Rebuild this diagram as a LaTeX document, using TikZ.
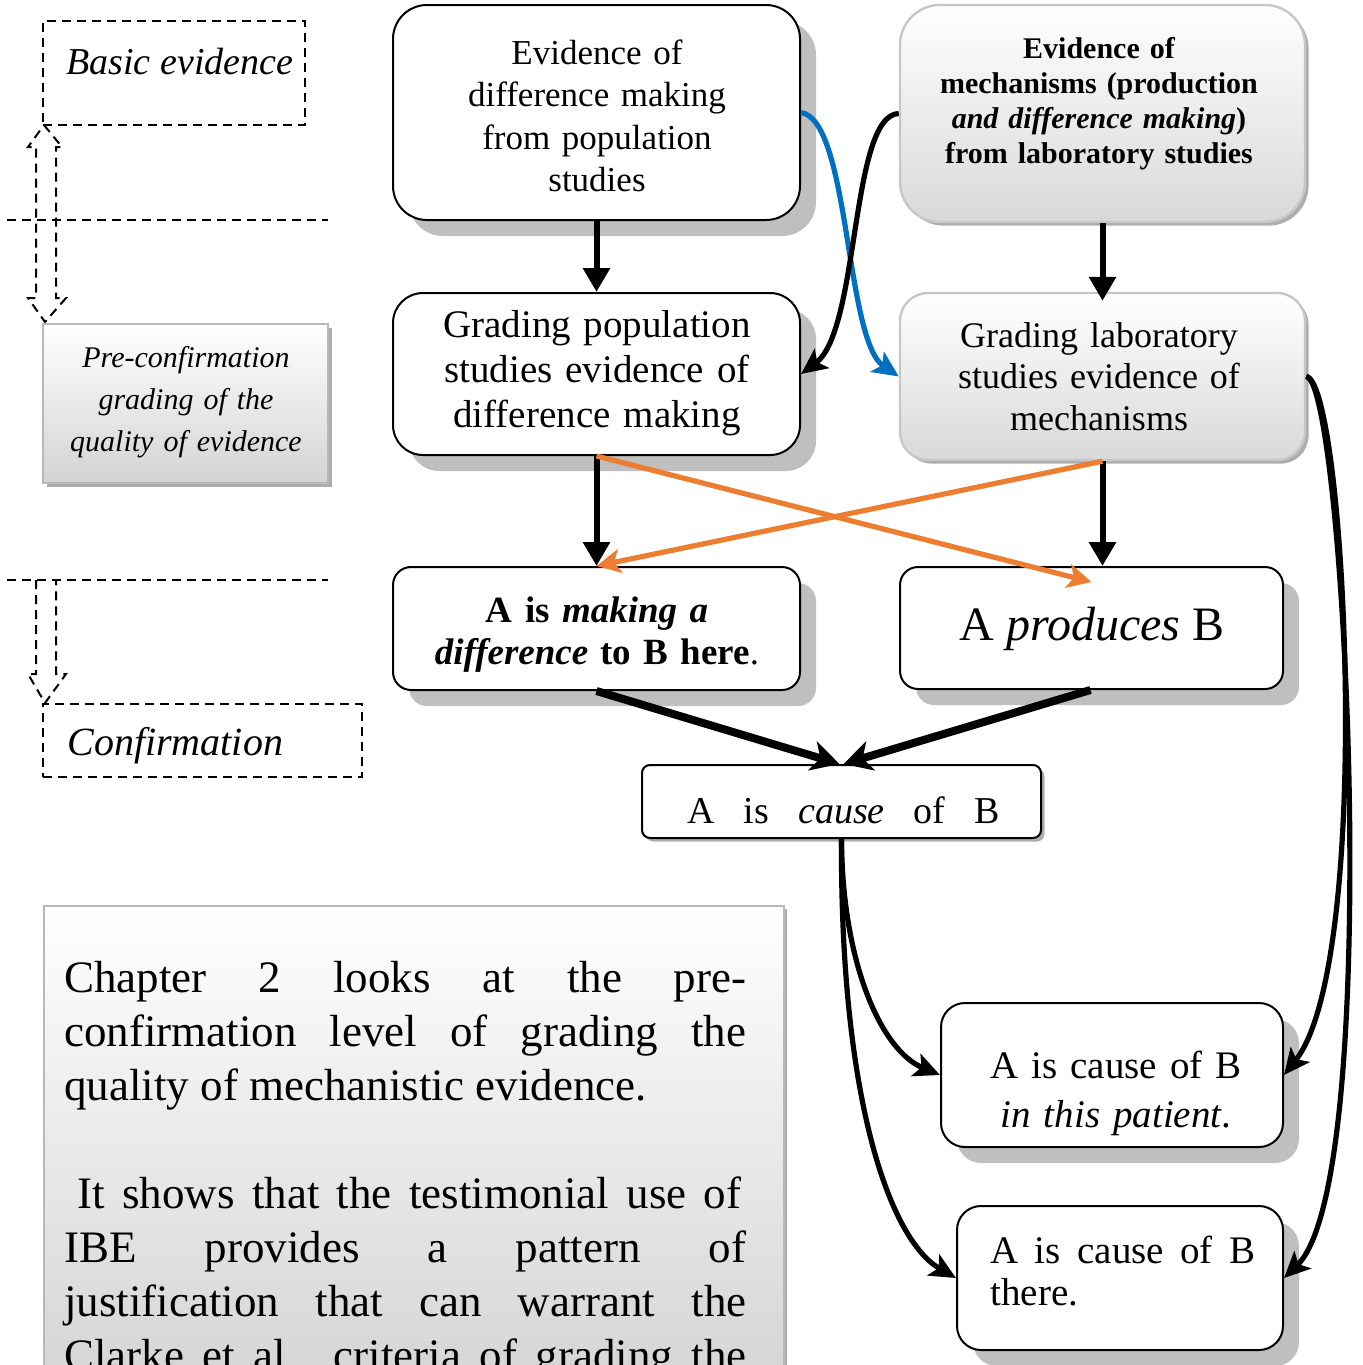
\documentclass[tikz,border=0pt]{standalone}
\usepackage{fontspec}
\setmainfont{Liberation Serif}
\usetikzlibrary{arrows.meta,shadows,calc}
\definecolor{flowblue}{HTML}{0070C0}
\definecolor{floworange}{HTML}{ED7D31}
\begin{document}
\begin{tikzpicture}[x=0.5pt,y=-0.5pt,
  bigshadow/.style={drop shadow={shadow xshift=8pt,shadow yshift=-8pt,fill=black!25,opacity=1}},
  smallshadow/.style={drop shadow={shadow xshift=1.8pt,shadow yshift=-1.8pt,fill=black!32,opacity=1}},
  wbox/.style={draw=black,line width=1pt,fill=white,rounded corners=#1,bigshadow},
  gbox/.style={draw=black!22,line width=1.2pt,top color=white,bottom color=black!15,rounded corners=#1,smallshadow},
  pbox/.style={draw=black!28,line width=0.8pt,top color=white,bottom color=black!17,smallshadow},
  dbox/.style={draw=black,line width=1pt,dash pattern=on 4.5pt off 3pt},
  dline/.style={draw=black,line width=1pt,dash pattern=on 4.5pt off 3pt},
  txt/.style={inner sep=0pt,align=center},
  vflow/.style={draw=black,line width=3pt,-{Triangle[width=13pt,length=12pt]}},
  jflow/.style={draw=black,line width=4pt,-{Stealth[width=15pt,length=14pt,inset=4pt]}},
  cflow/.style={draw=black,line width=2.6pt,-{Stealth[width=12pt,length=13pt,inset=3pt]}},
  oflow/.style={draw=floworange,line width=2.6pt,-{Stealth[width=12pt,length=12pt,inset=3pt]}}]
\useasboundingbox (0,0) rectangle (1362,1365);

% ---- stage labels on the left ----
\node[dbox,minimum width=131pt,minimum height=52pt] (basic) at (174,73) {};
\node[txt,anchor=base west,font=\fontsize{19}{22}\selectfont\itshape] (basic-t) at (66,74) {Basic evidence};

\draw[dline] (44,125) -- (62,147) -- (56,147) -- (56,298) -- (66,298) -- (45,322)
  -- (28,298) -- (36,298) -- (36,147) -- (28,147) -- cycle;
\draw[dline] (7,220) -- (328,220);

\node[pbox,minimum width=142.5pt,minimum height=79.5pt] (precon) at (185.5,403.5) {};
\node[txt,anchor=base,text width=140pt,font=\fontsize{15}{21}\selectfont\itshape] (precon-t) at (186,367)
  {Pre-confirmation\\grading of the\\quality of evidence};

\draw[dline] (7,580) -- (328,580);
\draw[dline] (36,580) -- (36,674) -- (28,674) -- (45,703) -- (66,674) -- (56,674) -- (56,580);

\node[dbox,minimum width=159.5pt,minimum height=36.5pt] (confirm) at (202.5,740.5) {};
\node[txt,anchor=base west,font=\fontsize{20}{24}\selectfont\itshape] (confirm-t) at (67,755) {Confirmation};

% ---- evidence boxes ----
\node[wbox=17pt,minimum width=203.5pt,minimum height=107.5pt] (evpop) at (596.5,112.5) {};
\node[txt,anchor=base,text width=200pt,font=\fontsize{17.5}{21.25}\selectfont] (evpop-t) at (597,64)
  {Evidence of\\difference making\\from population\\studies};

\node[gbox=20pt,minimum width=202.5pt,minimum height=108.5pt] (evmech) at (1102.5,113.5) {};
\node[txt,anchor=base,text width=200pt,font=\fontsize{15}{17.5}\selectfont\bfseries] (evmech-t) at (1099,58)
  {Evidence of\\mechanisms (production\\\textit{and difference making})\\from laboratory studies};

\node[wbox=15pt,minimum width=203.5pt,minimum height=81pt] (gradpop) at (596.5,374) {};
\node[txt,anchor=base,text width=200pt,font=\fontsize{19.5}{22.5}\selectfont] (gradpop-t) at (597,337)
  {Grading population\\studies evidence of\\difference making};

\node[gbox=14pt,minimum width=202.5pt,minimum height=83.5pt] (gradlab) at (1102.5,376.5) {};
\node[txt,anchor=base,text width=200pt,font=\fontsize{18}{20.75}\selectfont] (gradlab-t) at (1099,347)
  {Grading laboratory\\studies evidence of\\mechanisms};

% ---- conclusions ----
\node[wbox=9pt,minimum width=203.5pt,minimum height=61.5pt] (diff) at (596.5,628.5) {};
\node[txt,anchor=base,text width=200pt,font=\fontsize{18.5}{21}\selectfont\bfseries] (diff-t) at (597,622)
  {A is \textit{making a}\\\textit{difference} to B here\textmd{.}};

\node[wbox=9pt,minimum width=191.5pt,minimum height=61pt] (prod) at (1091.5,628) {};
\node[txt,anchor=base,font=\fontsize{24}{28}\selectfont] (prod-t) at (1092,640) {A \textit{produces} B};

\node[draw=black,line width=1pt,fill=white,rounded corners=4pt,smallshadow,
  minimum width=199.5pt,minimum height=36.5pt] (cause) at (841.5,801.5) {};
\node[txt,anchor=base,font=\fontsize{19}{22}\selectfont] (cause-t) at (843.5,823)
  {\makebox[156.5pt][s]{A is \textit{cause} of B}};

\node[wbox=12pt,minimum width=171pt,minimum height=72pt] (patient) at (1112,1075) {};
\node[txt,anchor=base,text width=168pt,font=\fontsize{19.5}{24.5}\selectfont] (patient-t) at (1116,1078)
  {A is cause of B\\\textit{in this patient}.};

\node[wbox=12pt,minimum width=163pt,minimum height=72pt] (there) at (1120,1278) {};
\node[txt,anchor=base west,align=justify,text width=132.5pt,font=\fontsize{19.5}{21}\selectfont] (there-t) at (990,1263)
  {\makebox[132.5pt][s]{A is cause of B}\\there.};

% ---- commentary panel ----
\begin{scope}
\clip (0,0) rectangle (1362,1365);
\node[pbox,anchor=north west,minimum width=370pt,minimum height=245pt] (chapter) at (43,905) {};
\node[txt,anchor=base west,align=justify,text width=341pt,font=\fontsize{22.5}{27}\selectfont] (chapter-t) at (64,992)
  {\makebox[341pt][s]{Chapter 2 looks at the pre-}\\
   \makebox[341pt][s]{confirmation level of grading the}\\
   quality of mechanistic evidence.\\
   \mbox{}\\
   \hspace*{6.5pt}\makebox[332pt][s]{It shows that the testimonial use of}\\
   \makebox[341pt][s]{IBE provides a pattern of}\\
   \makebox[341pt][s]{justification that can warrant the}\\
   \makebox[341pt][s]{Clarke et al. criteria of grading the}};
\end{scope}

% ---- connectors ----
\draw[vflow] (evpop.south) -- (gradpop.north);
\draw[vflow] (evmech.south) -- ($(gradlab.north)+(0,9)$);
\draw[cflow,draw=flowblue] (evpop.east) .. controls (850,120) and (845,340) .. (gradlab.west);
\draw[cflow] (evmech.west) .. controls (850,115) and (860,330) .. (gradpop.east);

\draw[vflow] (gradpop.south) -- (diff.north);
\draw[vflow] (gradlab.south) -- (gradlab.south |- prod.north);
\draw[oflow] (gradpop.south) -- ($(prod.north)+(0,16)$);
\draw[oflow] (gradlab.south) -- (diff.north);

\draw[jflow] (diff.south) -- ($(cause.north)+(-2,0)$);
\draw[jflow] ($(prod.south)+(-1,0)$) -- ($(cause.north)+(2,0)$);

\draw[cflow] (cause.south) .. controls (842,960) and (880,1050) .. (patient.west);
\draw[cflow] (cause.south) .. controls (840,1100) and (890,1240) .. (there.west);
\draw[cflow] (gradlab.east) .. controls (1345,380) and (1375,960) .. (patient.east);
\draw[cflow] (gradlab.east) .. controls (1345,380) and (1385,1180) .. (there.east);
\end{tikzpicture}
\end{document}
